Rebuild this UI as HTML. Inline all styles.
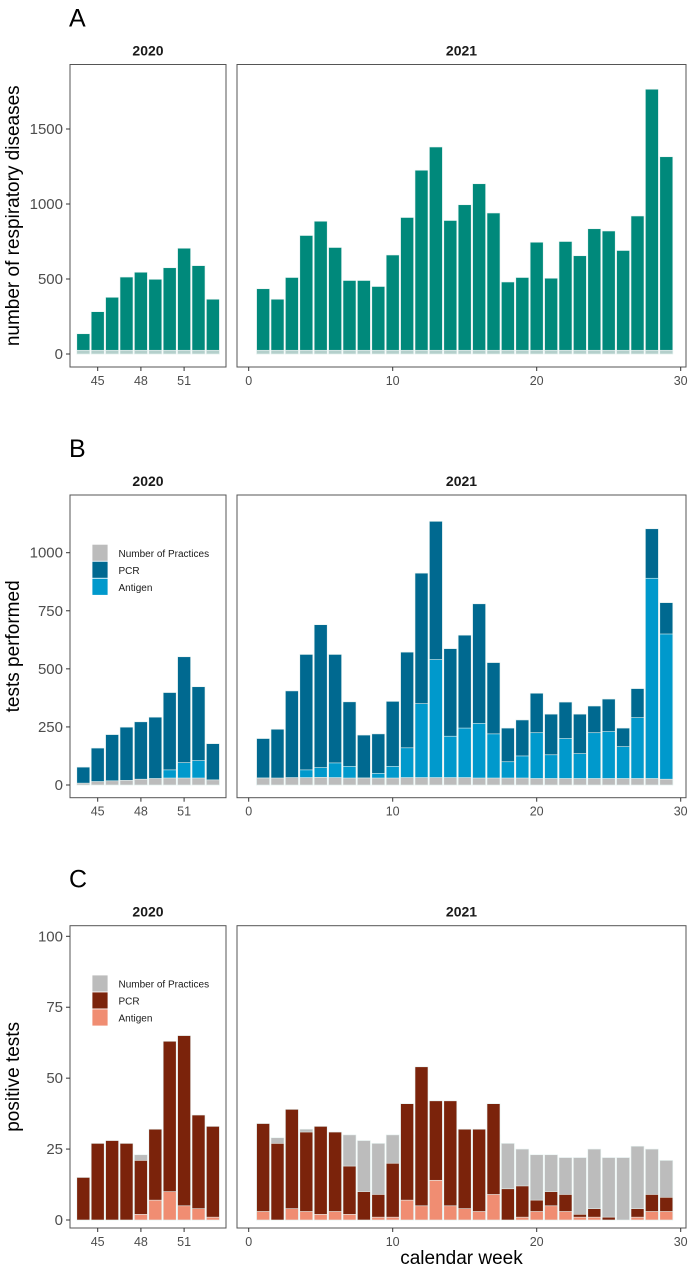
<!DOCTYPE html>
<html><head><meta charset="utf-8"><style>
body{margin:0;background:#fff}
svg text{font-family:"Liberation Sans",sans-serif}
</style></head><body>
<svg id="chart" width="695" height="1270" xmlns="http://www.w3.org/2000/svg"></svg>
<script>
const weeks2020=[44,45,46,47,48,49,50,51,52,53];
const weeks2021=[1,2,3,4,5,6,7,8,9,10,11,12,13,14,15,16,17,18,19,20,21,22,23,24,25,26,27,28,29];
const respA2020=[135,282,378,513,545,498,575,705,589,365];
const respA2021=[435,365,510,790,885,710,490,490,450,660,910,1225,1380,890,995,1135,940,480,510,745,505,750,655,835,820,690,920,1765,1315];
const practA2020=[25,25,25,25,25,25,25,25,25,25];
const practA2021=[25,25,25,25,25,25,25,25,25,25,25,25,25,25,25,25,25,25,25,25,25,25,25,25,25,25,25,25,25];
const pcrB2020=[77,159,217,249,272,292,398,552,423,178];
const antB2020=[0,0,0,0,0,0,65,96,105,0];
const practB2020=[8,15,18,20,25,28,30,30,30,22];
const pcrB2021=[200,240,405,562,690,562,358,215,220,360,572,912,1135,587,645,780,527,245,280,395,305,357,305,340,370,245,415,1103,785];
const antB2021=[30,0,0,65,75,95,80,30,50,80,160,350,540,210,245,265,220,100,125,225,130,200,135,225,230,165,290,890,650];
const practB2021=[30,30,32,32,33,32,30,30,30,30,32,32,32,32,32,30,30,30,30,28,28,28,28,28,28,28,28,28,25];
const pcrC2020=[15,27,28,27,21,32,63,65,37,33];
const antC2020=[0,0,0,0,2,7,10,5,4,1];
const practC2020=[14,20,22,22,23,24,25,25,25,25];
const pcrC2021=[34,27,39,31,33,31,19,10,9,20,41,54,42,42,32,32,41,11,12,7,10,9,2,4,1,0,4,9,8];
const antC2021=[3,0,4,3,2,3,2,0,1,1,7,5,14,5,4,3,9,0,1,3,5,3,1,1,0,0,1,3,3];
const practC2021=[30,29,30,32,30,30,30,28,27,30,30,30,30,30,30,30,30,27,25,23,23,22,22,25,22,22,26,25,21];
const ticksA=[0,500,1000,1500], ticksB=[0,250,500,750,1000], ticksC=[0,25,50,75,100];
const xt2020=[45,48,51], xt2021=[0,10,20,30];

const svg=document.getElementById('chart');
const NS='http://www.w3.org/2000/svg';
function el(tag,attrs,txt){const e=document.createElementNS(NS,tag);for(const k in attrs)e.setAttribute(k,attrs[k]);if(txt!==undefined)e.textContent=txt;svg.appendChild(e);return e;}
const x2020=w=>97.7+(w-45)*14.4;
const x2021=w=>248.7+w*14.4;
const BW=13;
const panels=[
 {id:'a',letter:'A',top:64.5,bot:367,y0:354,k:0.15,ticks:ticksA,title:'number of respiratory diseases',legend:null,
  s2020:[[respA2020,'#00897b'],[practA2020,'#b4cfcb']],s2021:[[respA2021,'#00897b'],[practA2021,'#b4cfcb']]},
 {id:'b',letter:'B',top:495,bot:797.7,y0:785,k:0.2323,ticks:ticksB,title:'tests performed',legend:['#006990','#0099cc'],
  s2020:[[pcrB2020,'#006990'],[antB2020,'#0099cc'],[practB2020,'#bcbcbc']],s2021:[[pcrB2021,'#006990'],[antB2021,'#0099cc'],[practB2021,'#bcbcbc']]},
 {id:'c',letter:'C',top:925.7,bot:1228,y0:1220,k:2.837,ticks:ticksC,title:'positive tests',legend:['#7b230b','#f08d72'],
  s2020:[[practC2020,'#bcbcbc'],[pcrC2020,'#7b230b'],[antC2020,'#f08d72']],s2021:[[practC2021,'#bcbcbc'],[pcrC2021,'#7b230b'],[antC2021,'#f08d72']]}
];
panels.forEach(p=>{
  const y=v=>p.y0-v*p.k;
  let t=el('text',{x:69,y:p.top-38,'font-size':25,fill:'#000'},p.letter);
  
  [[148,'2020'],[461.5,'2021']].forEach(([cx,s])=>{const e=el('text',{x:cx,y:p.top-9,'font-size':14,'font-weight':'bold','text-anchor':'middle',fill:'#1a1a1a'},s);
    });
  [[weeks2020,p.s2020,x2020,'2020'],[weeks2021,p.s2021,x2021,'2021']].forEach(([wk,series,xf,yr])=>{
    series.forEach(([vals,col])=>{
      wk.forEach((w,i)=>{const v=vals[i];if(!v)return;
        const r=el('rect',{x:xf(w)-BW/2,y:y(v),width:BW,height:v*p.k,fill:col,stroke:'#e6f2f0','stroke-width':0.6});
        });
    });
  });
  [[70,226,'2020'],[237,686,'2021']].forEach(([l,r,yr])=>{const b=el('rect',{x:l,y:p.top,width:r-l,height:p.bot-p.top,fill:'none',stroke:'#555','stroke-width':1});
    });
  p.ticks.forEach(v=>{el('line',{x1:66,x2:70,y1:y(v),y2:y(v),stroke:'#333'});
    const e=el('text',{x:63,y:y(v)+5,'font-size':15,'text-anchor':'end',fill:'#4d4d4d'},v);
    });
  [[xt2020,x2020],[xt2021,x2021]].forEach(([ts,xf])=>ts.forEach(w=>{el('line',{x1:xf(w),x2:xf(w),y1:p.bot,y2:p.bot+4,stroke:'#333'});
    const e=el('text',{x:xf(w),y:p.bot+18,'font-size':12.5,'text-anchor':'middle',fill:'#4d4d4d'},w);
    }));
  const cy=(p.top+p.bot)/2;
  const yt=el('text',{x:0,y:0,'font-size':19,'text-anchor':'middle',fill:'#000',transform:`translate(19,${cy}) rotate(-90)`},p.title);
  
  if(p.legend){
    const ly=p.id==='b'?544.3:975;
    const items=[['Number of Practices','#bcbcbc'],['PCR',p.legend[0]],['Antigen',p.legend[1]]];
    items.forEach(([lab,col],i)=>{const r=el('rect',{x:92,y:ly+i*17,width:16,height:17,fill:col,stroke:'#fff','stroke-width':0.8});
      
      const e=el('text',{x:118.5,y:ly+i*17+12.5,'font-size':10,fill:'#1a1a1a'},lab);
      });
  }
});
const xl=el('text',{x:461.5,y:1264,'font-size':19,'text-anchor':'middle',fill:'#000'},'calendar week');


</script>
</body></html>
